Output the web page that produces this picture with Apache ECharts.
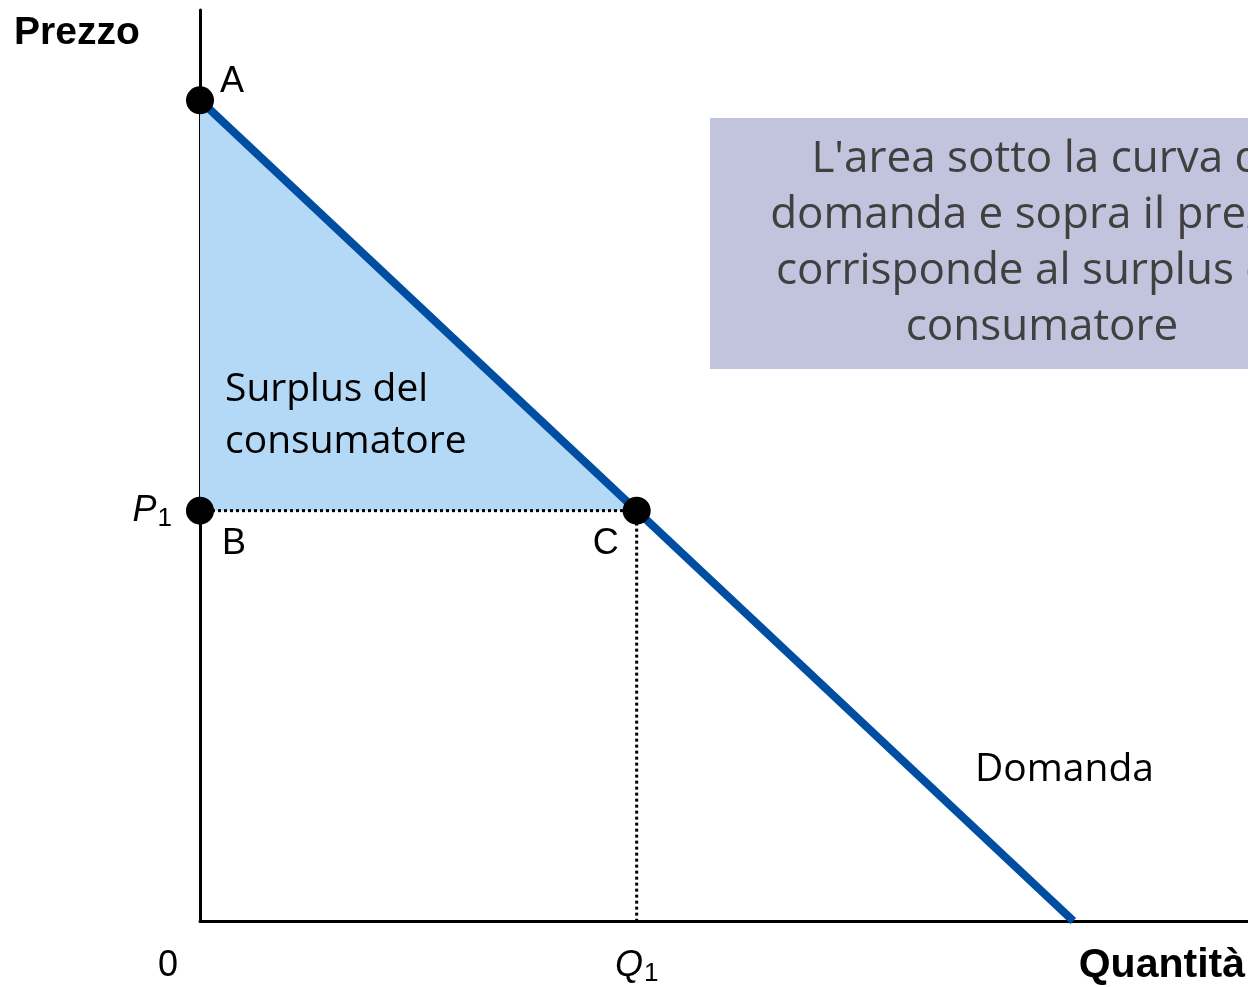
<!DOCTYPE html>
<html><head><meta charset="utf-8">
<script src="https://cdn.jsdelivr.net/npm/echarts@6/dist/echarts.min.js"></script>
<style>html,body{margin:0;padding:0;background:#fff}#c{width:1248px;height:987px}</style>
</head><body><div id="c"></div>
<script>
// Data
const demandQ = [0, 100];
const demandP = [100, 0];
const Q1 = 50;
const P1 = 50;
const pointNames = ['A', 'B', 'C'];
const pointQ = [0, 0, Q1];
const pointP = [100, P1, P1];
const surplusPoly = [[0, 100], [Q1, P1], [0, P1]];

const chart = echarts.init(document.getElementById('c'));
const font = 'Liberation Sans, Arial, sans-serif';
const font2 = 'Open Sans, Noto Sans, sans-serif';

const subRich = {
  i: { fontFamily: font, fontStyle: 'italic', fontSize: 36, color: '#000' },
  s: { fontFamily: font, fontSize: 26, color: '#000', verticalAlign: 'bottom', padding: [16, 0, 0, 1] }
};

const option = {
  animation: false,
  grid: { left: 200, right: 0, top: 10, bottom: 64 },
  xAxis: {
    type: 'value', min: 0, max: 120,
    axisLine: { show: true, lineStyle: { color: '#000', width: 3 } },
    axisTick: { show: false }, splitLine: { show: false },
    axisLabel: { customValues: [Q1], margin: 24, formatter: () => '{i|Q}{s|1}', rich: subRich }
  },
  yAxis: {
    type: 'value', min: 0, max: 111,
    axisLine: { show: true, lineStyle: { color: '#000', width: 3 } },
    axisTick: { show: false }, splitLine: { show: false },
    axisLabel: { customValues: [P1], margin: 28, formatter: () => '{i|P}{s|1}', rich: subRich }
  },
  series: [
    {
      type: 'custom', z: 1, silent: true, clip: false,
      data: [0],
      renderItem: (params, api) => ({
        type: 'polygon',
        shape: { points: surplusPoly.map(p => api.coord(p)) },
        style: { fill: '#B4D9F7' }
      })
    },
    {
      type: 'line', name: 'Domanda', z: 3, symbol: 'none', clip: false,
      data: demandQ.map((q, i) => [q, demandP[i]]),
      lineStyle: { color: '#004EA2', width: 8 }
    },
    {
      type: 'line', z: 4, symbol: 'none',
      data: [[0, P1], [Q1, P1]],
      lineStyle: { color: '#000', width: 3, type: 'dotted' }
    },
    {
      type: 'line', z: 4, symbol: 'none',
      data: [[Q1, P1], [Q1, 0]],
      lineStyle: { color: '#000', width: 3, type: 'dotted' }
    },
    {
      type: 'scatter', z: 5, clip: false, symbolSize: 28,
      itemStyle: { color: '#000', opacity: 1 },
      data: pointNames.map((n, i) => {
        const lbl = i === 0 ? { position: 'right', distance: 6, offset: [0, -18] }
          : i === 1 ? { position: 'right', distance: 8, offset: [0, 33] }
          : { position: 'left', distance: 4, offset: [0, 33] };
        return { name: n, value: [pointQ[i], pointP[i]], label: Object.assign({ show: true, formatter: n, fontFamily: font, fontSize: 36, color: '#000', opacity: 1 }, lbl) };
      })
    }
  ],
  graphic: [
    { type: 'text', z: 20, left: 14, top: 14, style: { text: 'Prezzo', font: 'bold 39px ' + font, fill: '#000' } },
    { type: 'text', z: 20, right: 3, top: 945, style: { text: 'Quantità', font: 'bold 41px ' + font, fill: '#000' } },
    { type: 'text', z: 20, x: 168, y: 966, style: { text: '0', font: '36px ' + font, fill: '#000', textAlign: 'center', textVerticalAlign: 'middle' } },
    { type: 'text', z: 20, x: 225, y: 416, style: { text: 'Surplus del\nconsumatore', font: '39px ' + font2, lineHeight: 52, fill: '#000', textVerticalAlign: 'middle' } },
    { type: 'text', z: 20, x: 975, y: 770, style: { text: 'Domanda', font: '39px ' + font2, fill: '#000', textVerticalAlign: 'middle' } },
    { type: 'rect', shape: { x: 710, y: 118, width: 664, height: 251 }, style: { fill: '#C2C4DD' }, z: 10 },
    { type: 'text', x: 1042, y: 243, z: 11, style: { text: "L'area sotto la curva di\ndomanda e sopra il prezzo\ncorrisponde al surplus del\nconsumatore", font: '44px ' + font2, lineHeight: 56, fill: '#404040', textAlign: 'center', textVerticalAlign: 'middle' } }
  ]
};
chart.setOption(option);
</script></body></html>
